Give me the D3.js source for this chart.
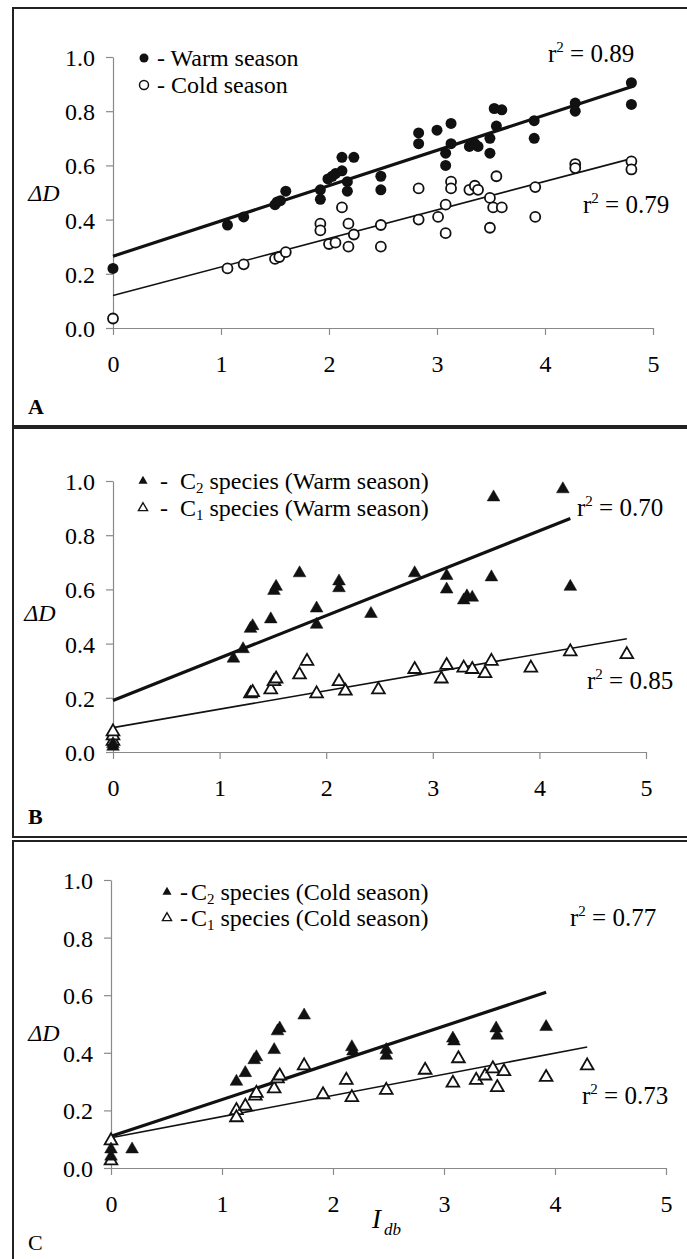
<!DOCTYPE html>
<html><head><meta charset="utf-8">
<script src="https://cdn.jsdelivr.net/npm/d3@7"></script>
<style>
html,body{margin:0;padding:0;background:#fff;}
svg{display:block;}
svg text{font-family:"Liberation Serif","Times New Roman",Times,"DejaVu Serif",serif !important;fill:#000;}
</style></head>
<body>
<script>
// ---------- data ----------
const xTicks = [0,1,2,3,4,5];
const yTicks = [0,0.2,0.4,0.6,0.8,1.0];

// Panel A
const warmSeason = [[0,0.22],[1.06,0.38],[1.21,0.41],[1.50,0.455],[1.52,0.465],[1.55,0.47],[1.60,0.505],[1.92,0.51],[1.92,0.475],[1.99,0.55],[2.03,0.56],[2.06,0.57],[2.12,0.63],[2.12,0.58],[2.17,0.54],[2.17,0.505],[2.23,0.63],[2.48,0.56],[2.48,0.51],[2.83,0.72],[2.83,0.68],[3.00,0.73],[3.13,0.755],[3.08,0.645],[3.08,0.60],[3.13,0.68],[3.30,0.67],[3.35,0.68],[3.38,0.67],[3.49,0.70],[3.49,0.645],[3.53,0.81],[3.60,0.805],[3.55,0.745],[3.90,0.765],[3.90,0.70],[4.28,0.83],[4.28,0.80],[4.80,0.905],[4.80,0.825]];
const coldSeason = [[0,0.035],[1.06,0.22],[1.21,0.235],[1.50,0.255],[1.54,0.262],[1.60,0.28],[1.92,0.385],[1.92,0.36],[2.00,0.31],[2.06,0.315],[2.12,0.445],[2.18,0.385],[2.18,0.30],[2.23,0.345],[2.48,0.38],[2.48,0.30],[2.83,0.515],[2.83,0.40],[3.01,0.41],[3.08,0.455],[3.08,0.35],[3.13,0.54],[3.13,0.515],[3.30,0.51],[3.35,0.525],[3.38,0.51],[3.49,0.48],[3.49,0.37],[3.55,0.56],[3.52,0.445],[3.60,0.445],[3.91,0.52],[3.91,0.41],[4.28,0.605],[4.28,0.59],[4.80,0.615],[4.80,0.585]];
const fitWarm = [[0,0.265],[4.8,0.89]];
const fitCold = [[0,0.12],[4.8,0.625]];

// Panel B
const c2Warm = [[0,0.02],[0,0.03],[1.13,0.345],[1.22,0.38],[1.29,0.455],[1.31,0.465],[1.48,0.49],[1.51,0.595],[1.53,0.61],[1.75,0.66],[1.91,0.53],[1.91,0.47],[2.12,0.63],[2.12,0.605],[2.42,0.51],[2.83,0.66],[3.13,0.65],[3.13,0.60],[3.29,0.56],[3.32,0.575],[3.37,0.57],[3.55,0.645],[3.57,0.94],[4.22,0.97],[4.29,0.61]];
const c1Warm = [[0,0.04],[0,0.06],[0,0.075],[1.29,0.215],[1.31,0.22],[1.48,0.23],[1.51,0.26],[1.53,0.27],[1.75,0.285],[1.82,0.335],[1.91,0.215],[2.12,0.26],[2.18,0.225],[2.49,0.23],[2.83,0.305],[3.08,0.27],[3.13,0.32],[3.29,0.31],[3.37,0.305],[3.49,0.29],[3.55,0.335],[3.92,0.31],[4.29,0.37],[4.82,0.36]];
const fitC2Warm = [[0,0.19],[4.29,0.862]];
const fitC1Warm = [[0,0.09],[4.82,0.418]];

// Panel C
const c2Cold = [[0,0.04],[0,0.065],[0.19,0.065],[1.13,0.30],[1.21,0.33],[1.29,0.375],[1.31,0.385],[1.47,0.41],[1.50,0.475],[1.52,0.485],[1.74,0.53],[2.17,0.42],[2.18,0.405],[2.48,0.41],[2.48,0.39],[3.08,0.45],[3.09,0.44],[3.47,0.485],[3.48,0.46],[3.92,0.49]];
const c1Cold = [[0,0.095],[0,0.025],[1.13,0.20],[1.13,0.175],[1.21,0.215],[1.30,0.25],[1.31,0.26],[1.47,0.275],[1.50,0.31],[1.52,0.32],[1.74,0.355],[1.91,0.255],[2.12,0.305],[2.17,0.245],[2.48,0.27],[2.83,0.34],[3.08,0.295],[3.13,0.38],[3.29,0.305],[3.37,0.32],[3.44,0.345],[3.48,0.28],[3.54,0.335],[3.92,0.315],[4.29,0.355]];
const fitC2Cold = [[0,0.11],[3.92,0.61]];
const fitC1Cold = [[0,0.105],[4.29,0.42]];

const legendA = ["- Warm season","- Cold season"];
const legendB = ["C|2| species (Warm season)","C|1| species (Warm season)"];
const legendC = ["C|2| species (Cold season)","C|1| species (Cold season)"];
const r2A = ["0.89","0.79"], r2B = ["0.70","0.85"], r2C = ["0.77","0.73"];
const panelLetters = ["A","B","C"];

// ---------- drawing ----------
const FONT = '"Liberation Serif","Times New Roman",Times,"DejaVu Serif",serif';
const W = 687, H = 1259;
const svg = d3.select("body").append("svg").attr("width", W).attr("height", H)
  .attr("font-family", FONT);

function drawPanel(cfg){
  const g = svg.append("g");
  g.append("rect").attr("x",13).attr("y",cfg.frameTop).attr("width",700).attr("height",cfg.frameBottom-cfg.frameTop)
    .attr("fill","none").attr("stroke","#222").attr("stroke-width",2);
  const x = d3.scaleLinear().domain([0,5]).range(cfg.xr);
  const y = d3.scaleLinear().domain([0,1]).range(cfg.yr);

  const ax = g.append("g").attr("transform",`translate(0,${cfg.yr[0]})`)
    .call(d3.axisBottom(x).tickValues(xTicks).tickFormat(d3.format("d")).tickSize(7).tickSizeOuter(0).tickPadding(20));
  const ay = g.append("g").attr("transform",`translate(${cfg.xr[0]},0)`)
    .call(d3.axisLeft(y).tickValues(yTicks).tickFormat(d3.format(".1f")).tickSize(7).tickSizeOuter(0).tickPadding(11));
  [ax,ay].forEach(a=>{
    a.attr("font-family", FONT);
    a.select(".domain").attr("stroke","#8a8a8a").attr("stroke-width",1.2);
    a.selectAll(".tick line").attr("stroke","#8a8a8a").attr("stroke-width",1.2);
    a.selectAll(".tick text").attr("font-size",24).attr("fill","#000");
  });
  ay.selectAll(".tick text").attr("dy","0.35em");

  const line = d3.line().x(d=>x(d[0])).y(d=>y(d[1]));
  g.append("path").datum(cfg.fit1).attr("d",line).attr("stroke","#111").attr("stroke-width",3.2).attr("fill","none");
  g.append("path").datum(cfg.fit2).attr("d",line).attr("stroke","#111").attr("stroke-width",1.6).attr("fill","none");

  const mk = (sel, data, filled) => {
    if (cfg.shape === "circle") {
      sel.selectAll(null).data(data).enter().append("circle")
        .attr("cx",d=>x(d[0])).attr("cy",d=>y(d[1])).attr("r",filled?5.5:5)
        .attr("fill",filled?"#111":"#fff").attr("stroke","#111").attr("stroke-width",filled?0:1.8);
    } else {
      const sym = d3.symbol().type(d3.symbolTriangle).size(70);
      sel.selectAll(null).data(data).enter().append("path")
        .attr("d",sym).attr("transform",d=>`translate(${x(d[0])},${y(d[1])})`)
        .attr("fill",filled?"#111":"#fff").attr("stroke","#111").attr("stroke-width",filled?0.5:1.8);
    }
  };
  const pg = g.append("g");
  mk(pg, cfg.open, false);
  mk(pg, cfg.filled, true);

  cfg.legend.forEach((t,i)=>{
    const ly = cfg.legY + i*cfg.legDy;
    if (cfg.shape === "circle") {
      g.append("circle").attr("cx",cfg.legX).attr("cy",ly).attr("r",4.5)
        .attr("fill",i===0?"#111":"#fff").attr("stroke","#111").attr("stroke-width",i===0?0:1.5);
      g.append("text").attr("x",cfg.legX+13).attr("y",ly+8).attr("font-size",24).text(t);
    } else {
      g.append("path").attr("d",d3.symbol().type(d3.symbolTriangle).size(36)())
        .attr("transform",`translate(${cfg.legX},${ly})`)
        .attr("fill",i===0?"#111":"#fff").attr("stroke","#111").attr("stroke-width",i===0?0:1.4);
      g.append("text").attr("x",cfg.legX+cfg.dashDx).attr("y",ly+8).attr("font-size",24).text("-");
      const parts = t.split("|");
      const tx = g.append("text").attr("x",cfg.legX+cfg.textDx).attr("y",ly+8).attr("font-size",24);
      tx.append("tspan").text(parts[0]);
      tx.append("tspan").attr("font-size",15).attr("dy",4).text(parts[1]);
      tx.append("tspan").attr("dy",-4).text(parts[2]);
    }
  });

  cfg.r2.forEach((v,i)=>{
    const t = g.append("text").attr("x",cfg.r2pos[i][0]).attr("y",cfg.r2pos[i][1]).attr("font-size",25);
    t.append("tspan").text("r");
    t.append("tspan").attr("font-size",15).attr("dy",-10).text("2");
    t.append("tspan").attr("dy",10).text(" = " + v);
  });

  const yl = g.append("text").attr("x",cfg.ylab[0]).attr("y",cfg.ylab[1]).attr("font-size",24)
    .attr("font-style","italic").attr("text-anchor","middle");
  yl.append("tspan").text("ΔD");

  g.append("text").attr("x",28).attr("y",cfg.letterY).attr("font-size",22)
    .attr("font-weight",cfg.letterBold?"bold":"normal").text(cfg.letter);

  return {x,y,g};
}

drawPanel({
  frameTop:8, frameBottom:426, xr:[113,653], yr:[328,57], shape:"circle",
  filled:warmSeason, open:coldSeason, fit1:fitWarm, fit2:fitCold,
  legend:legendA, legX:144, legY:58, legDy:27,
  r2:r2A, r2pos:[[548,62],[583,213]], ylab:[44,201], letter:panelLetters[0], letterY:414, letterBold:true
});
drawPanel({
  frameTop:428, frameBottom:837, xr:[113,646], yr:[752,481], shape:"triangle",
  filled:c2Warm, open:c1Warm, fit1:fitC2Warm, fit2:fitC1Warm,
  legend:legendB, legX:143, legY:481, legDy:27, dashDx:17, textDx:37,
  r2:r2B, r2pos:[[577,516],[587,689]], ylab:[40,621], letter:panelLetters[1], letterY:824, letterBold:true
});
drawPanel({
  frameTop:841, frameBottom:1300, xr:[111,666], yr:[1168,880], shape:"triangle",
  filled:c2Cold, open:c1Cold, fit1:fitC2Cold, fit2:fitC1Cold,
  legend:legendC, legX:167, legY:892, legDy:26, dashDx:13, textDx:24,
  r2:r2C, r2pos:[[570,926],[582,1104]], ylab:[44,1041], letter:panelLetters[2], letterY:1250, letterBold:false
});
const xt = svg.append("text").attr("x",372).attr("y",1228).attr("font-size",27).attr("font-style","italic");
xt.append("tspan").text("I");
xt.append("tspan").attr("font-size",17).attr("dy",7).attr("dx",3).text("db");
</script>
</body></html>
